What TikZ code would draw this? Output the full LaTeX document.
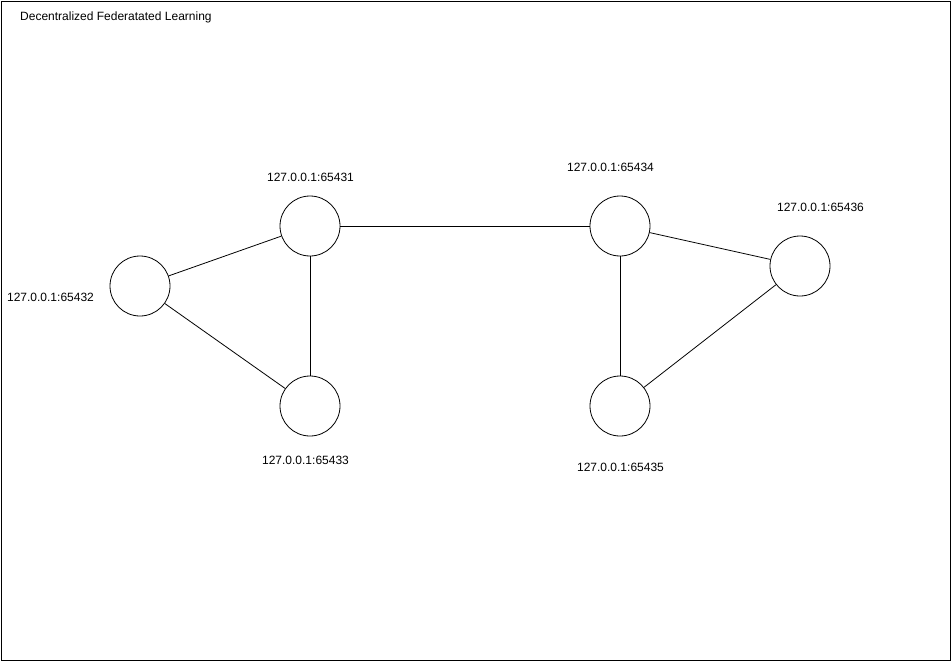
\documentclass[tikz,border=0pt]{standalone}
\usepackage{fontspec}
\setmainfont{Liberation Sans}
\begin{document}
\begin{tikzpicture}[x=1pt,y=-1pt,
  peer/.style={draw,circle,minimum size=60pt,inner sep=0pt,line width=0.8pt},
  lbl/.style={font=\fontsize{12}{14}\selectfont,inner sep=0pt},
  link/.style={line width=0.8pt}]
\useasboundingbox (0,0) rectangle (951,661);
\draw[line width=0.8pt] (1,1) rectangle (950,660);
\node[lbl,anchor=west] (title) at (20,17) {Decentralized Federatated Learning};
\node[peer] (a) at (310,226) {};
\node[peer] (b) at (140,286) {};
\node[peer] (c) at (310,406) {};
\node[peer] (d) at (620,226) {};
\node[peer] (e) at (800,266) {};
\node[peer] (f) at (620,406) {};
\node[lbl] (la) at (310.5,177) {127.0.0.1:65431};
\node[lbl] (lb) at (50.5,297) {127.0.0.1:65432};
\node[lbl] (lc) at (305.5,460) {127.0.0.1:65433};
\node[lbl] (ld) at (610.5,167) {127.0.0.1:65434};
\node[lbl] (le) at (820.5,207) {127.0.0.1:65436};
\node[lbl] (lf) at (620.5,467) {127.0.0.1:65435};
\draw[link] (a) -- (b);
\draw[link] (a) -- (c);
\draw[link] (b) -- (c);
\draw[link] (a) -- (d);
\draw[link] (d) -- (e);
\draw[link] (d) -- (f);
\draw[link] (f) -- (e);
\end{tikzpicture}
\end{document}
